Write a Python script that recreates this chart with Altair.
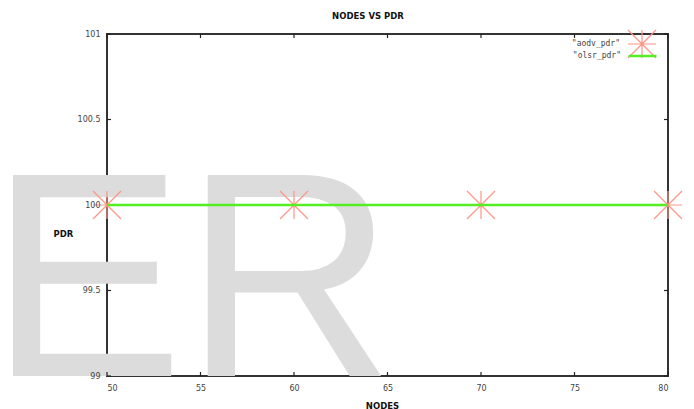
import altair as alt
import pandas as pd

# ---- data ----
nodes = [50, 60, 70, 80]
aodv_pdr = [100, 100, 100, 100]
olsr_pdr = [100, 100, 100, 100]
series_names = ['"aodv_pdr"', '"olsr_pdr"']
series_colors = ["#ff9585", "#55ee22"]
x_ticks = [50, 55, 60, 65, 70, 75, 80]
y_ticks = [99, 99.5, 100, 100.5, 101]
chart_title = ["NODES VS PDR"]
x_title = "NODES"
y_title = "PDR"
watermark = ["ER"]

STAR = "M-1,0L1,0M0,-1L0,1M-1,-1L1,1M-1,1L1,-1"

df_aodv = pd.DataFrame({"nodes": nodes, "pdr": aodv_pdr, "series": [series_names[0]] * len(nodes)})
df_olsr = pd.DataFrame({"nodes": nodes, "pdr": olsr_pdr, "series": [series_names[1]] * len(nodes)})
df_xt = pd.DataFrame({"v": x_ticks})
df_yt = pd.DataFrame({"v": y_ticks})
df_wm = pd.DataFrame({"t": watermark})
df_title = pd.DataFrame({"t": chart_title})

xs = alt.Scale(domain=[50, 80], nice=False, zero=False)
ys = alt.Scale(domain=[99, 101], nice=False, zero=False)

x_axis = alt.Axis(values=x_ticks, grid=False, domain=False, ticks=False, zindex=1,
                  labelFont="DejaVu Sans", labelFontSize=8, labelColor="#444",
                  labelPadding=8, title=x_title, titleFont="DejaVu Sans",
                  titleFontSize=8.5, titleFontWeight="bold", titleColor="#111",
                  titleX=275, titleY=29, titleAlign="center", titleBaseline="middle")
y_axis = alt.Axis(values=y_ticks, format="~g", grid=False, domain=False, ticks=False, zindex=1,
                  labelFont="DejaVu Sans", labelFontSize=8, labelColor="#444",
                  labelPadding=7, title=y_title, titleFont="DejaVu Sans",
                  titleFontSize=8.5, titleFontWeight="bold", titleColor="#111",
                  titleAngle=0, titleX=-54, titleY=199, titleAlign="left",
                  titleBaseline="middle")

common_legend = dict(title=None, orient="none", labelAlign="right",
                     labelOffset={"expr": "-37"}, labelFont="DejaVu Sans Mono",
                     labelFontSize=8, labelColor="#444", symbolSize=784, padding=0)
legend_a = alt.Legend(legendX=520, legendY=-5, symbolStrokeColor=series_colors[0],
                      symbolFillColor="transparent", symbolStrokeWidth=1.2,
                      **common_legend)
legend_b = alt.Legend(legendX=520, legendY=6.5, symbolType="stroke",
                      symbolStrokeWidth=2.5, **common_legend)

wm = alt.Chart(df_wm).mark_text(fontSize=292, font="Liberation Sans", color="#dcdcdc",
                                align="left", baseline="alphabetic").encode(
    x=alt.value(-118), y=alt.value(342), text="t:N")

title_mark = alt.Chart(df_title).mark_text(font="DejaVu Sans", fontSize=8.5, fontWeight="bold",
                                           color="#111", align="center", baseline="middle").encode(
    x=alt.value(261), y=alt.value(-18), text="t:N")

pts = alt.Chart(df_aodv).mark_point(filled=False, size=784, strokeWidth=1.2, opacity=1,
                                    color=series_colors[0]).encode(
    x=alt.X("nodes:Q", scale=xs, axis=x_axis),
    y=alt.Y("pdr:Q", scale=ys, axis=y_axis),
    shape=alt.Shape("series:N", scale=alt.Scale(domain=[series_names[0]], range=[STAR]),
                    legend=legend_a),
)

line = alt.Chart(df_olsr).mark_line(strokeWidth=2.5).encode(
    x=alt.X("nodes:Q", scale=xs),
    y=alt.Y("pdr:Q", scale=ys),
    color=alt.Color("series:N", scale=alt.Scale(domain=[series_names[1]], range=[series_colors[1]]),
                    legend=legend_b),
)

tick_style = dict(color="#222", strokeWidth=1.2)
t_bottom = alt.Chart(df_xt).mark_rule(y2Offset=-4, **tick_style).encode(
    x=alt.X("v:Q", scale=xs), y=alt.datum(99), y2=alt.datum(99))
t_top = alt.Chart(df_xt).mark_rule(y2Offset=4, **tick_style).encode(
    x=alt.X("v:Q", scale=xs), y=alt.datum(101), y2=alt.datum(101))
t_left = alt.Chart(df_yt).mark_rule(x2Offset=4, **tick_style).encode(
    y=alt.Y("v:Q", scale=ys), x=alt.datum(50), x2=alt.datum(50))
t_right = alt.Chart(df_yt).mark_rule(x2Offset=-4, **tick_style).encode(
    y=alt.Y("v:Q", scale=ys), x=alt.datum(80), x2=alt.datum(80))

chart = alt.layer(wm, title_mark, t_bottom, t_top, t_left, t_right, pts, line).properties(
    width=561, height=342,
    autosize=alt.AutoSizeParams(type="none"),
    padding={"left": 99, "top": 26, "right": 18, "bottom": 33},
    background="white",
).configure_view(stroke="#333", strokeWidth=2)

chart.save("out.html", embed_options={"renderer": "svg", "actions": False})
